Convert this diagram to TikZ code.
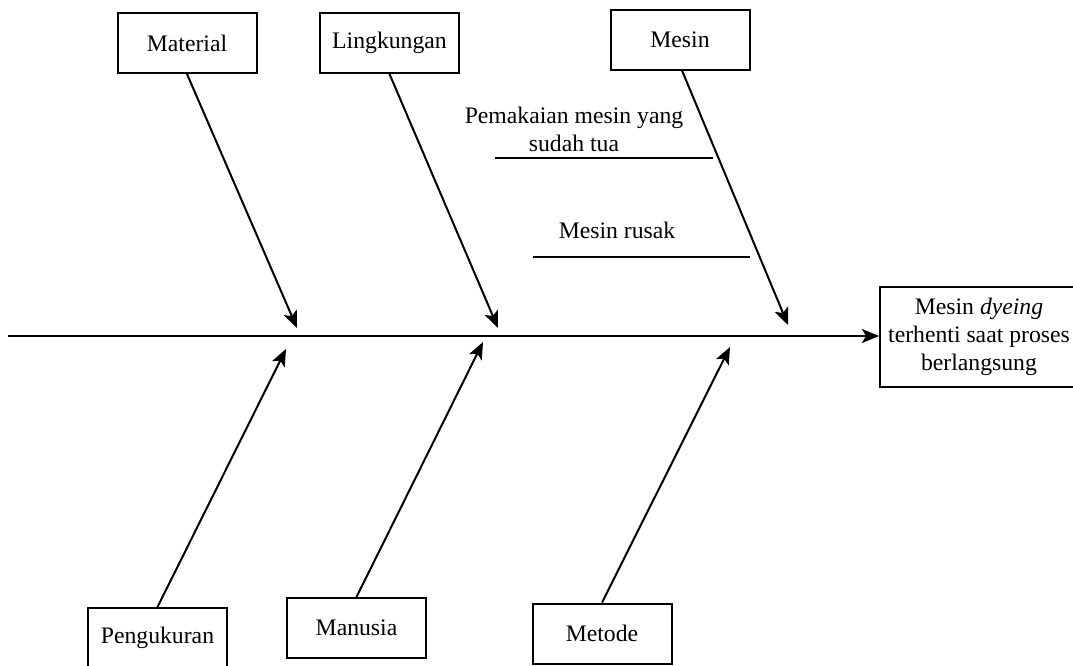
\documentclass[tikz,border=0pt]{standalone}
\usepackage{fontspec}
\setmainfont{Liberation Serif}
\usetikzlibrary{arrows.meta}

\begin{document}
\begin{tikzpicture}[x=1pt, y=-1pt, font=\fontsize{23.7}{28}\selectfont]
      \tikzset{cause box/.style={draw,line width=2pt,minimum width=139pt,minimum height=60pt,inner sep=0pt},
               bone/.style={line width=2pt,-{Stealth[length=17pt,width=14pt,inset=4pt]}},
               sub line/.style={line width=1.8pt}}
      \useasboundingbox (0,0) rectangle (1073,665);

      % Effect box (its right side runs off the page)
      \node[draw, line width=2pt, minimum width=198pt, minimum height=100pt, align=center] (effect) at (979,337)
        {Mesin \textit{dyeing}\\terhenti saat proses\\berlangsung};

      % Spine
      \coordinate (tail) at (8,336);
      \draw[bone, line width=2.4pt] (tail) -- (effect.west |- tail);

      % Top causes
      \node[cause box] (material) at (187,43) {Material};
      \node[cause box] (lingkungan) at (389.5,43) {Lingkungan};
      \node[cause box] (mesin) at (680,39.5) {Mesin};

      \coordinate (materialEnd) at (297,328);
      \coordinate (lingkunganEnd) at (498,328);
      \coordinate (mesinEnd) at (788,325);
      \draw[bone] (material.south) -- (materialEnd);
      \draw[bone] (lingkungan.south) -- (lingkunganEnd);
      \draw[bone] ([xshift=2pt]mesin.south) -- (mesinEnd);

      % Bottom causes
      \node[cause box] (pengukuran) at (157.5,638) {Pengukuran};
      \node[cause box] (manusia) at (356.5,628) {Manusia};
      \node[cause box] (metode) at (602,633.5) {Metode};

      \coordinate (pengukuranEnd) at (286,349);
      \coordinate (manusiaEnd) at (483,342);
      \coordinate (metodeEnd) at (730,347);
      \draw[bone] (pengukuran.north) -- (pengukuranEnd);
      \draw[bone] (manusia.north) -- (manusiaEnd);
      \draw[bone] (metode.north) -- (metodeEnd);

      % Sub-causes of Mesin
      \node[align=center, inner sep=0pt] (tua) at (574,129) {Pemakaian mesin yang\\sudah tua};
      \coordinate (tuaL) at (495,158);
      \coordinate (tuaR) at (713,158);
      \draw[sub line] (tuaL) -- (tuaR);

      \node[inner sep=0pt] (rusak) at (617,230) {Mesin rusak};
      \coordinate (rusakL) at (533,257);
      \coordinate (rusakR) at (750,257);
      \draw[sub line] (rusakL) -- (rusakR);

\end{tikzpicture}
\end{document}
